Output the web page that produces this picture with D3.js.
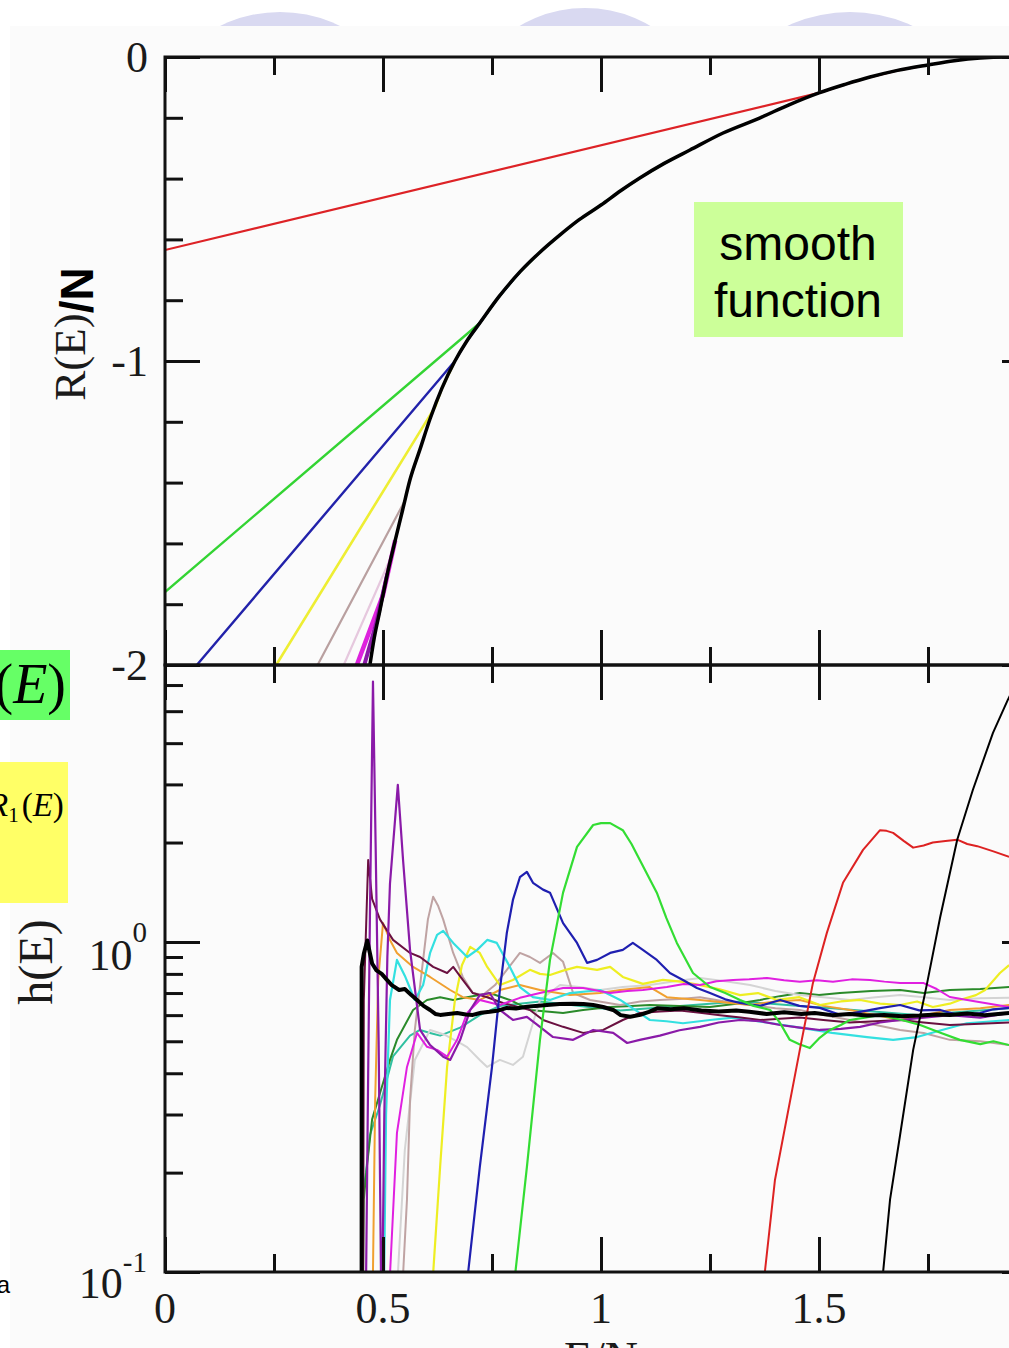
<!DOCTYPE html>
<html>
<head>
<meta charset="utf-8">
<script src="https://cdn.jsdelivr.net/npm/d3@7"></script>
<style>
body { margin: 0; background: #fff; }
svg { display: block; }
</style>
</head>
<body>
<svg id="chart" width="1009" height="1348"></svg>
<script>
// ---- axis ticks ----
var xMajor = [0, 0.5, 1, 1.5, 2],
    xMinor = [0.25, 0.75, 1.25, 1.75],
    xLabels = ["0", "0.5", "1", "1.5"],
    rMajor = [-2, -1, 0],
    rMinor = [-1.8, -1.6, -1.4, -1.2, -0.8, -0.6, -0.4, -0.2],
    rLabels = ["-2", "-1", "0"],
    hMajor = [0.1, 1],
    hMinor = [0.2, 0.3, 0.4, 0.5, 0.6, 0.7, 0.8, 0.9, 2, 3, 4, 5, 6],
    hExponents = ["-1", "0"];

// ---- top panel: R(E)/N, [E/N, R/N] ----
var rSmooth = [[0.470,-2.00],[0.480,-1.91],[0.493,-1.82],[0.510,-1.70],[0.528,-1.59],[0.545,-1.49],
    [0.562,-1.39],[0.585,-1.29],[0.608,-1.19],[0.635,-1.09],[0.665,-1.00],[0.692,-0.935],
    [0.722,-0.875],[0.765,-0.79],[0.814,-0.707],[0.860,-0.642],[0.906,-0.585],[0.950,-0.535],
    [1.000,-0.487],[1.045,-0.44],[1.089,-0.398],[1.145,-0.35],[1.204,-0.306],[1.280,-0.25],
    [1.365,-0.20],[1.430,-0.158],[1.500,-0.118],[1.560,-0.09],[1.617,-0.066],[1.680,-0.044],
    [1.750,-0.026],[1.810,-0.012],[1.870,-0.003],[1.930,0],[2.0,0]];
var rRed = [[0,-0.635],[1.500,-0.118],[1.560,-0.09],[1.617,-0.066],[1.680,-0.044],[1.750,-0.026]];
var rGreen = [[0,-1.76],[0.722,-0.875],[0.765,-0.79],[0.814,-0.707],[0.860,-0.642],[0.906,-0.585],
    [0.950,-0.535],[1.000,-0.487],[1.045,-0.44],[1.089,-0.398],[1.145,-0.35],[1.204,-0.306]];
var rBlue = [[0.073,-2],[0.665,-1.00],[0.692,-0.935],[0.722,-0.875],[0.765,-0.79],[0.814,-0.707]];
var rYellow = [[0.255,-2],[0.620,-1.15],[0.635,-1.09],[0.665,-1.00]];
var rTan = [[0.350,-2],[0.550,-1.46],[0.562,-1.39],[0.585,-1.29]];
var rPale = [[0.410,-2],[0.520,-1.64],[0.545,-1.49]];
var rMagenta = [[0.440,-2],[0.500,-1.77],[0.528,-1.59]];
var rViolet = [[0.457,-2],[0.485,-1.86],[0.510,-1.70]];

// ---- bottom panel: h(E), [E/N, h] ----
var hBlackThick = [[0.451,0.05],[0.451,0.84],[0.456,0.92],[0.464,1.01],[0.468,0.95],[0.475,0.86],
    [0.485,0.82],[0.497,0.80],[0.508,0.77],[0.52,0.74],[0.537,0.715],[0.55,0.72],[0.565,0.69],
    [0.578,0.667],[0.593,0.64],[0.608,0.622],[0.62,0.605],[0.631,0.601],[0.65,0.605],[0.670,0.609],
    [0.69,0.603],[0.706,0.601],[0.725,0.61],[0.745,0.614],[0.765,0.62],[0.784,0.631],[0.805,0.628],
    [0.83,0.636],[0.85,0.64],[0.876,0.644],[0.905,0.648],[0.936,0.650],[0.96,0.648],[0.982,0.644],
    [1.005,0.635],[1.028,0.622],[1.045,0.60],[1.067,0.593],[1.09,0.601],[1.11,0.614],[1.13,0.63],
    [1.16,0.625],[1.19,0.63],[1.23,0.62],[1.27,0.615],[1.31,0.62],[1.34,0.614],[1.38,0.605],
    [1.42,0.612],[1.46,0.605],[1.49,0.609],[1.53,0.60],[1.57,0.605],[1.61,0.598],[1.65,0.601],
    [1.69,0.595],[1.73,0.598],[1.77,0.603],[1.80,0.601],[1.84,0.607],[1.88,0.60],[1.936,0.609]];
var hBlackThin = [[1.635,0.05],[1.640,0.08],[1.663,0.166],[1.686,0.26],[1.716,0.471],[1.748,0.75],
    [1.778,1.19],[1.817,2.04],[1.853,2.89],[1.899,4.3],[1.933,5.41],[1.98,7.16],[2.0,8]];
var hRed = [[1.368,0.05],[1.372,0.09],[1.399,0.19],[1.456,0.471],[1.486,0.75],[1.518,1.065],
    [1.555,1.51],[1.601,1.90],[1.640,2.18],[1.655,2.17],[1.670,2.14],[1.695,2.02],[1.716,1.93],
    [1.740,1.96],[1.761,2.0],[1.790,2.02],[1.817,2.04],[1.840,1.98],[1.863,1.95],[1.900,1.88],
    [1.936,1.81]];
var hGreen = [[0.800,0.05],[0.803,0.098],[0.830,0.208],[0.860,0.505],[0.883,0.882],[0.913,1.41],
    [0.945,1.94],[0.982,2.26],[1.000,2.29],[1.021,2.29],[1.050,2.18],[1.070,1.98],[1.089,1.77],
    [1.128,1.41],[1.150,1.18],[1.174,0.993],[1.211,0.805],[1.250,0.73],[1.285,0.70],[1.319,0.667],
    [1.350,0.64],[1.388,0.622],[1.410,0.57],[1.433,0.505],[1.455,0.49],[1.479,0.477],[1.50,0.51],
    [1.525,0.541],[1.550,0.56],[1.571,0.580],[1.605,0.59],[1.640,0.601],[1.690,0.58],[1.732,0.56],
    [1.780,0.53],[1.823,0.505],[1.870,0.49],[1.900,0.50],[1.936,0.487]];
var hBlue = [[0.692,0.05],[0.695,0.099],[0.722,0.208],[0.750,0.418],[0.768,0.715],[0.784,1.065],
    [0.798,1.34],[0.814,1.57],[0.830,1.63],[0.844,1.51],[0.867,1.44],[0.883,1.41],[0.913,1.14],
    [0.945,0.993],[0.968,0.864],[0.991,0.882],[1.021,0.926],[1.050,0.946],[1.073,0.993],
    [1.096,0.946],[1.128,0.882],[1.158,0.805],[1.188,0.767],[1.220,0.725],[1.250,0.70],
    [1.285,0.67],[1.319,0.653],[1.365,0.64],[1.411,0.667],[1.455,0.64],[1.502,0.631],
    [1.550,0.60],[1.594,0.614],[1.640,0.63],[1.686,0.644],[1.730,0.62],[1.778,0.622],
    [1.820,0.60],[1.869,0.609],[1.900,0.625],[1.936,0.631]];
var hYellow = [[0.612,0.05],[0.615,0.099],[0.631,0.208],[0.647,0.418],[0.665,0.667],[0.681,0.85],
    [0.700,0.966],[0.722,0.926],[0.739,0.84],[0.768,0.74],[0.798,0.767],[0.837,0.823],[0.860,0.80],
    [0.883,0.794],[0.915,0.82],[0.945,0.84],[0.991,0.823],[1.021,0.84],[1.050,0.783],[1.096,0.746],
    [1.142,0.767],[1.188,0.757],[1.227,0.74],[1.270,0.72],[1.319,0.69],[1.360,0.70],[1.404,0.667],
    [1.455,0.68],[1.502,0.644],[1.550,0.66],[1.594,0.667],[1.640,0.65],[1.686,0.644],
    [1.725,0.66],[1.761,0.635],[1.800,0.65],[1.823,0.667],[1.860,0.69],[1.881,0.715],
    [1.915,0.805],[1.936,0.85]];
var hTan = [[0.544,0.05],[0.546,0.098],[0.555,0.166],[0.562,0.332],[0.573,0.541],[0.592,0.882],
    [0.603,1.17],[0.615,1.37],[0.626,1.29],[0.638,1.17],[0.661,0.926],[0.683,0.783],[0.706,0.70],
    [0.729,0.69],[0.757,0.74],[0.784,0.823],[0.814,0.926],[0.837,0.90],[0.860,0.864],[0.890,0.926],
    [0.913,0.87],[0.936,0.70],[0.975,0.667],[1.010,0.655],[1.044,0.644],[1.090,0.66],[1.135,0.667],
    [1.180,0.672],[1.227,0.68],[1.285,0.66],[1.342,0.644],[1.400,0.63],[1.456,0.622],[1.510,0.60],
    [1.571,0.580],[1.630,0.56],[1.686,0.541],[1.740,0.53],[1.800,0.505],[1.870,0.50],[1.936,0.487]];
var hGrey = [[0.532,0.05],[0.534,0.098],[0.550,0.234],[0.573,0.439],[0.608,0.541],[0.642,0.523],
    [0.672,0.498],[0.693,0.48],[0.722,0.439],[0.739,0.418],[0.768,0.439],[0.798,0.424],
    [0.821,0.449],[0.837,0.53],[0.860,0.667],[0.906,0.74],[0.950,0.73],[0.998,0.715],
    [1.050,0.73],[1.112,0.74],[1.170,0.76],[1.227,0.778],[1.285,0.76],[1.342,0.74],[1.400,0.71],
    [1.456,0.69],[1.510,0.68],[1.571,0.667],[1.630,0.68],[1.686,0.69],[1.740,0.68],[1.800,0.667],
    [1.870,0.675],[1.936,0.677]];
var hViolet = [[0.459,0.05],[0.466,0.4],[0.470,1.2],[0.477,6.15],[0.483,2.0],[0.490,0.5],
    [0.497,0.06],[0.503,0.3],[0.510,0.9],[0.516,1.5],[0.534,2.99],[0.546,1.77],[0.562,0.946],
    [0.585,0.541],[0.608,0.487],[0.638,0.449],[0.654,0.439],[0.677,0.505],[0.700,0.622],
    [0.722,0.69],[0.745,0.70],[0.768,0.622],[0.798,0.58],[0.830,0.593],[0.860,0.553],[0.890,0.515],
    [0.936,0.505],[0.982,0.541],[1.028,0.53],[1.060,0.494],[1.089,0.505],[1.135,0.52],
    [1.180,0.54],[1.227,0.553],[1.270,0.57],[1.319,0.58],[1.365,0.575],[1.411,0.56],[1.456,0.55],
    [1.502,0.541],[1.550,0.545],[1.594,0.553],[1.640,0.57],[1.686,0.58],[1.740,0.59],[1.800,0.60],
    [1.870,0.59],[1.936,0.609]];
var hMagenta = [[0.514,0.05],[0.516,0.098],[0.532,0.264],[0.555,0.418],[0.578,0.53],[0.601,0.481],
    [0.624,0.471],[0.647,0.449],[0.670,0.505],[0.693,0.609],[0.722,0.667],[0.768,0.644],
    [0.814,0.677],[0.860,0.70],[0.913,0.725],[0.959,0.725],[1.021,0.70],[1.060,0.71],
    [1.096,0.715],[1.151,0.73],[1.190,0.745],[1.227,0.74],[1.265,0.76],[1.303,0.767],
    [1.340,0.77],[1.381,0.778],[1.420,0.765],[1.456,0.757],[1.495,0.765],[1.532,0.757],
    [1.575,0.77],[1.617,0.767],[1.650,0.758],[1.686,0.751],[1.739,0.751],[1.770,0.72],
    [1.800,0.681],[1.860,0.66],[1.936,0.635]];
var hMaroon = [[0.454,0.05],[0.456,0.667],[0.466,1.77],[0.475,1.35],[0.493,1.17],[0.523,1.014],
    [0.562,0.926],[0.585,0.90],[0.615,0.84],[0.647,0.805],[0.661,0.84],[0.683,0.767],[0.706,0.70],
    [0.739,0.68],[0.775,0.653],[0.837,0.622],[0.867,0.58],[0.913,0.553],[0.959,0.53],[1.005,0.541],
    [1.050,0.58],[1.089,0.609],[1.135,0.615],[1.181,0.62],[1.227,0.61],[1.273,0.60],[1.320,0.59],
    [1.365,0.58],[1.410,0.585],[1.456,0.59],[1.510,0.58],[1.571,0.57],[1.630,0.575],[1.686,0.58],
    [1.740,0.57],[1.800,0.56],[1.870,0.565],[1.936,0.57]];
var hCyan = [[0.500,0.05],[0.507,0.30],[0.516,0.667],[0.532,0.882],[0.550,0.79],[0.573,0.667],
    [0.592,0.74],[0.608,0.926],[0.624,1.05],[0.638,1.08],[0.661,0.993],[0.693,0.90],[0.716,0.946],
    [0.739,1.014],[0.761,0.993],[0.791,0.84],[0.814,0.73],[0.844,0.68],[0.883,0.667],[0.929,0.70],
    [0.998,0.715],[1.044,0.667],[1.080,0.62],[1.112,0.58],[1.150,0.575],[1.188,0.567],
    [1.250,0.58],[1.303,0.59],[1.380,0.57],[1.456,0.55],[1.530,0.53],[1.610,0.515],[1.670,0.505],
    [1.725,0.515],[1.780,0.54],[1.839,0.567],[1.936,0.58]];
var hOrange = [[0.475,0.05],[0.477,0.1],[0.482,0.332],[0.489,0.767],[0.500,1.14],[0.516,1.014],
    [0.532,0.926],[0.569,0.84],[0.608,0.783],[0.654,0.715],[0.683,0.68],[0.722,0.667],
    [0.768,0.715],[0.814,0.74],[0.860,0.715],[0.929,0.69],[0.998,0.70],[1.044,0.715],
    [1.112,0.73],[1.151,0.68],[1.227,0.667],[1.285,0.655],[1.342,0.644],[1.400,0.66],
    [1.456,0.667],[1.510,0.64],[1.571,0.622],[1.630,0.60],[1.686,0.58],[1.740,0.60],[1.800,0.622],
    [1.870,0.63],[1.936,0.644]];
var hDarkGreen = [[0.452,0.05],[0.456,0.166],[0.463,0.208],[0.475,0.29],[0.493,0.348],[0.516,0.439],
    [0.532,0.505],[0.569,0.622],[0.601,0.667],[0.631,0.68],[0.661,0.667],[0.693,0.68],[0.745,0.70],
    [0.791,0.667],[0.837,0.622],[0.913,0.609],[0.959,0.622],[1.021,0.635],[1.070,0.64],
    [1.112,0.644],[1.180,0.64],[1.250,0.635],[1.310,0.65],[1.365,0.667],[1.410,0.685],
    [1.456,0.70],[1.500,0.69],[1.548,0.70],[1.620,0.71],[1.686,0.715],[1.740,0.70],[1.800,0.715],
    [1.870,0.72],[1.936,0.73]];
var hTeal = [[0.450,0.05],[0.452,0.166],[0.461,0.20],[0.470,0.26],[0.493,0.32],[0.523,0.45],
    [0.562,0.52],[0.585,0.541],[0.608,0.53],[0.631,0.52],[0.677,0.55],[0.722,0.60],[0.768,0.64],
    [0.860,0.66],[0.952,0.64],[1.044,0.62],[1.112,0.63],[1.181,0.64],[1.250,0.65],[1.319,0.66],
    [1.390,0.65],[1.456,0.64],[1.530,0.63],[1.594,0.62],[1.660,0.61],[1.732,0.60],[1.800,0.61],
    [1.869,0.62],[1.936,0.63]];

var topSeries = [
    {data: rRed, color: "#dd2226", width: 2.2},
    {data: rGreen, color: "#33d433", width: 2.4},
    {data: rBlue, color: "#2222aa", width: 2.4},
    {data: rYellow, color: "#eeee33", width: 2.6},
    {data: rTan, color: "#b9a0a0", width: 2.2},
    {data: rPale, color: "#e6c8de", width: 2.2},
    {data: rMagenta, color: "#dd22dd", width: 4.5},
    {data: rViolet, color: "#8a1aa8", width: 4},
    {data: rSmooth, color: "#000", width: 3.5, smooth: true}
];
var bottomSeries = [
    {data: hTeal, color: "#30c0a0", width: 2},
    {data: hDarkGreen, color: "#2a8a2a", width: 2},
    {data: hGrey, color: "#d4d4d4", width: 2},
    {data: hTan, color: "#bfa3a3", width: 2},
    {data: hOrange, color: "#f0a030", width: 2},
    {data: hYellow, color: "#eeee22", width: 2.2},
    {data: hCyan, color: "#33e0e0", width: 2.2},
    {data: hMaroon, color: "#6a1040", width: 2},
    {data: hMagenta, color: "#e020e0", width: 2},
    {data: hViolet, color: "#8a1aa8", width: 2.2},
    {data: hBlue, color: "#1f1fb0", width: 2.2},
    {data: hGreen, color: "#33dd33", width: 2.2},
    {data: hRed, color: "#dd2222", width: 2},
    {data: hBlackThin, color: "#000", width: 2},
    {data: hBlackThick, color: "#000", width: 4}
];

var svg = d3.select("#chart");
var serif = "'Liberation Serif', 'Times New Roman', serif",
    sans = "'Liberation Sans', Arial, sans-serif";

var x = d3.scaleLinear().domain([0, 2]).range([165, 1037]),
    yTop = d3.scaleLinear().domain([-2, 0]).range([665, 57]),
    yBot = d3.scaleLog().domain([0.1, 6.9]).range([1272, 665]);

// slide decoration behind the pasted figure
svg.selectAll(".blob")
    .data([[280, 148, 136], [585, 138, 130], [850, 162, 150]])
    .enter().append("circle")
    .attr("class", "blob")
    .attr("cx", function(d) { return d[0]; })
    .attr("cy", function(d) { return d[1]; })
    .attr("r", function(d) { return d[2]; })
    .attr("fill", "#d9d9f1");
svg.append("rect")
    .attr("x", 10).attr("y", 26).attr("width", 1000).attr("height", 1330)
    .attr("fill", "#fbfbfb");

// clip paths for the two panels
var defs = svg.append("defs");
defs.append("clipPath").attr("id", "clipTop").append("rect")
    .attr("x", 165).attr("y", 57).attr("width", 872).attr("height", 608);
defs.append("clipPath").attr("id", "clipBot").append("rect")
    .attr("x", 165).attr("y", 665).attr("width", 872).attr("height", 607);

var lineTop = d3.line()
        .x(function(d) { return x(d[0]); })
        .y(function(d) { return yTop(d[1]); }),
    smoothTop = d3.line()
        .x(function(d) { return x(d[0]); })
        .y(function(d) { return yTop(d[1]); })
        .curve(d3.curveMonotoneX),
    lineBot = d3.line()
        .x(function(d) { return x(d[0]); })
        .y(function(d) { return yBot(d[1]); });

svg.append("g").attr("clip-path", "url(#clipTop)")
    .selectAll("path").data(topSeries).enter()
    .append("path")
    .attr("d", function(d) { return d.smooth ? smoothTop(d.data) : lineTop(d.data); })
    .attr("fill", "none")
    .attr("stroke", function(d) { return d.color; })
    .attr("stroke-width", function(d) { return d.width; })
    .attr("stroke-linejoin", "round");

svg.append("g").attr("clip-path", "url(#clipBot)")
    .selectAll("path").data(bottomSeries).enter()
    .append("path")
    .attr("d", function(d) { return lineBot(d.data); })
    .attr("fill", "none")
    .attr("stroke", function(d) { return d.color; })
    .attr("stroke-width", function(d) { return d.width; })
    .attr("stroke-linejoin", "round");

// ticks (all pointing into the panels)
function ticks(axis, values, size, tx, ty) {
    var g = svg.append("g")
        .attr("transform", "translate(" + tx + "," + ty + ")")
        .call(axis.tickValues(values).tickSize(size).tickFormat(""));
    g.select(".domain").remove();
    g.selectAll("line").attr("stroke", "#111").attr("stroke-width", 3);
    return g;
}
[[57, d3.axisTop], [665, d3.axisBottom], [665, d3.axisTop], [1272, d3.axisBottom]]
    .forEach(function(p) {
        ticks(p[1](x), xMajor, -35, 0, p[0]);
        ticks(p[1](x), xMinor, -18, 0, p[0]);
    });
ticks(d3.axisLeft(yTop), rMajor, -35, 165, 0);
ticks(d3.axisLeft(yTop), rMinor, -18, 165, 0);
ticks(d3.axisRight(yTop), rMajor, -35, 1037, 0);
ticks(d3.axisRight(yTop), rMinor, -18, 1037, 0);
ticks(d3.axisLeft(yBot), hMajor, -35, 165, 0);
ticks(d3.axisLeft(yBot), hMinor, -18, 165, 0);
ticks(d3.axisRight(yBot), hMajor, -35, 1037, 0);
ticks(d3.axisRight(yBot), hMinor, -18, 1037, 0);

// frames
[[57, 665], [665, 1272]].forEach(function(r) {
    svg.append("rect")
        .attr("x", 165).attr("y", r[0])
        .attr("width", 872).attr("height", r[1] - r[0])
        .attr("fill", "none").attr("stroke", "#111").attr("stroke-width", 3);
});

// tick labels
svg.selectAll(".xlab").data(xLabels).enter()
    .append("text").attr("class", "xlab")
    .attr("x", function(d, i) { return x(xMajor[i]); })
    .attr("y", 1323)
    .attr("text-anchor", "middle")
    .style("font-family", serif).style("font-size", "44px").attr("fill", "#1a1a1a")
    .text(function(d) { return d; });

svg.selectAll(".rlab").data(rMajor).enter()
    .append("text").attr("class", "rlab")
    .attr("x", 148)
    .attr("y", function(d) { return yTop(d) + 15; })
    .attr("text-anchor", "end")
    .style("font-family", serif).style("font-size", "44px").attr("fill", "#1a1a1a")
    .text(function(d, i) { return rLabels[i]; });

var hlab = svg.selectAll(".hlab").data(hMajor).enter()
    .append("text").attr("class", "hlab")
    .attr("x", 147)
    .attr("y", function(d) { return yBot(d) + (d < 1 ? 26 : 28); })
    .attr("text-anchor", "end")
    .style("font-family", serif).attr("fill", "#1a1a1a");
hlab.append("tspan").style("font-size", "44px").text("10");
hlab.append("tspan")
    .attr("dy", function(d) { return d < 1 ? -26 : -28; })
    .style("font-size", "29px")
    .text(function(d, i) { return hExponents[i]; });

// axis titles
var rTitle = svg.append("text")
    .attr("transform", "translate(85,334) rotate(-90)")
    .attr("text-anchor", "middle").attr("fill", "#1a1a1a");
rTitle.append("tspan").style("font-family", serif).style("font-size", "45px").text("R(E)");
rTitle.append("tspan").attr("dy", 8).style("font-family", sans)
    .style("font-size", "46px").style("font-weight", "bold").attr("fill", "#000").text("/N");

svg.append("text")
    .attr("transform", "translate(52,962) rotate(-90)")
    .attr("text-anchor", "middle").attr("fill", "#1a1a1a")
    .style("font-family", serif).style("font-size", "48px")
    .text("h(E)");

// x title, cut by the bottom edge as in the slide
svg.append("text")
    .attr("x", 601).attr("y", 1374)
    .attr("text-anchor", "middle").attr("fill", "#1a1a1a")
    .style("font-family", serif).style("font-size", "46px")
    .text("E/N");

// slide annotations
svg.append("rect").attr("x", 694).attr("y", 202).attr("width", 209).attr("height", 135)
    .attr("fill", "#ccff99");
svg.selectAll(".note").data(["smooth", "function"]).enter()
    .append("text").attr("class", "note")
    .attr("x", 798)
    .attr("y", function(d, i) { return 260 + i * 57; })
    .attr("text-anchor", "middle")
    .style("font-family", sans).style("font-size", "48px").attr("fill", "#000")
    .text(function(d) { return d; });

svg.append("rect").attr("x", 0).attr("y", 650).attr("width", 70).attr("height", 70)
    .attr("fill", "#66ff66");
var gE = svg.append("text").attr("x", 66).attr("y", 703).attr("text-anchor", "end")
    .style("font-family", serif).style("font-size", "56px").attr("fill", "#000");
gE.append("tspan").text("(");
gE.append("tspan").style("font-style", "italic").text("E");
gE.append("tspan").text(")");

svg.append("rect").attr("x", 0).attr("y", 762).attr("width", 68).attr("height", 141)
    .attr("fill", "#ffff66");
var yE = svg.append("text").attr("x", -12).attr("y", 816)
    .style("font-family", serif).style("font-size", "33px").attr("fill", "#000");
yE.append("tspan").style("font-style", "italic").text("R");
yE.append("tspan").attr("dy", 6).style("font-size", "21px").text("1");
yE.append("tspan").attr("dy", -6).attr("dx", 3).text("(");
yE.append("tspan").style("font-style", "italic").text("E");
yE.append("tspan").text(")");

svg.append("text").attr("x", 10).attr("y", 1293).attr("text-anchor", "end")
    .style("font-family", sans).style("font-size", "24px").attr("fill", "#000")
    .text("a");
</script>
</body>
</html>
